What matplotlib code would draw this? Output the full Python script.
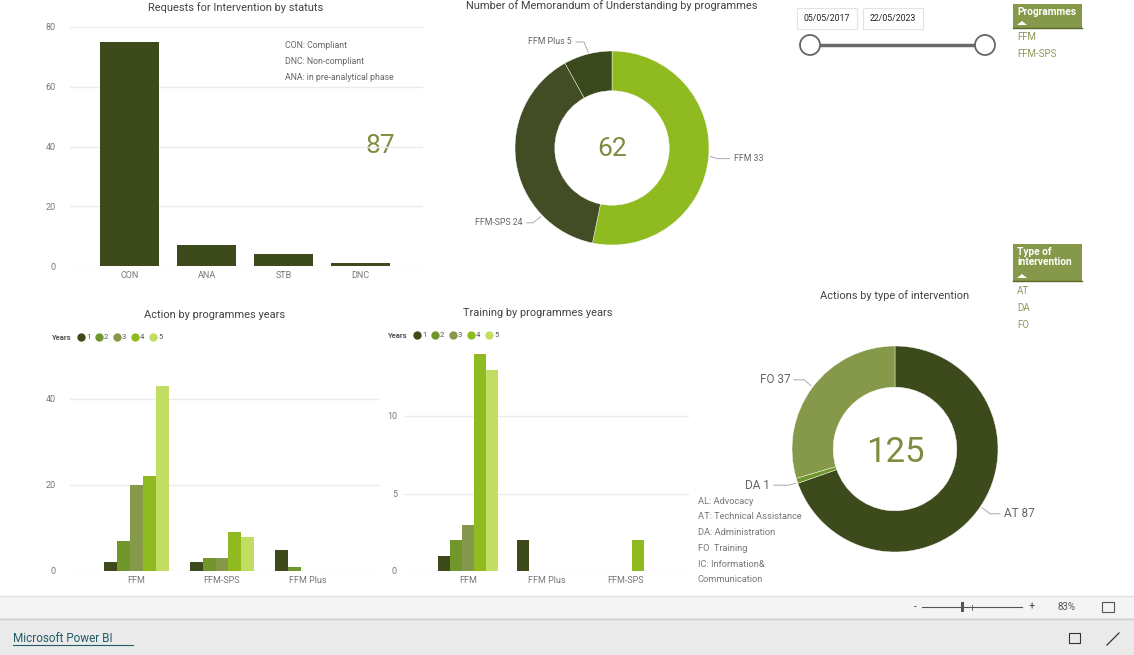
import matplotlib.pyplot as plt
import numpy as np
from matplotlib.patches import Rectangle, Circle, Polygon

plt.rcParams['font.family'] = ['Roboto', 'DejaVu Sans']

# data
status_cats = ["CON", "ANA", "STB", "DNC"]
status_vals = [75, 7, 4, 1]

mou_progs = ["FFM", "FFM-SPS", "FFM Plus"]
mou_vals = [33, 24, 5]

years = ["1", "2", "3", "4", "5"]
action_progs = ["FFM", "FFM-SPS", "FFM Plus"]
action_vals = {            # per year, per programme
    "1": [2, 2, 5],
    "2": [7, 3, 1],
    "3": [20, 3, 0],
    "4": [22, 9, 0],
    "5": [43, 8, 0],
}
training_progs = ["FFM", "FFM Plus", "FFM-SPS"]
training_vals = {
    "1": [1, 2, 0],
    "2": [2, 0, 0],
    "3": [3, 0, 0],
    "4": [14, 0, 2],
    "5": [13, 0, 0],
}

interv_types = ["AT", "DA", "FO"]
interv_vals = [87, 1, 37]

status_notes = ["CON: Compliant", "DNC: Non-compliant", "ANA: in pre-analytical phase"]
type_notes = ["AL: Advocacy", "AT: Technical Assistance", "DA: Administration",
              "FO  Training", "IC: Information&", "Communication"]
date_range = ["05/05/2017", "22/05/2023"]

# colours
DARK = "#3d4b1c"
year_colors = ["#3d4b1c", "#71962c", "#86984a", "#8fba20", "#c1de63"]
mou_colors = ["#8fba20", "#434d25", "#3b4a1c"]
type_colors = ["#3d4b1c", "#71962c", "#86984a"]
KPI = "#7f8c3f"
TITLE = "#444444"
TICK = "#777777"
GRID = "#ebebeb"

W, H = 1134, 655
fig = plt.figure(figsize=(W / 100, H / 100), dpi=100)
fig.patch.set_facecolor("white")

# background axes in pixel coords (y downwards)
bg = fig.add_axes([0, 0, 1, 1], zorder=-1)
bg.set_xlim(0, W)
bg.set_ylim(H, 0)
bg.axis("off")


def px_axes(x0, y0, x1, y1):
    ax = fig.add_axes([x0 / W, 1 - y1 / H, (x1 - x0) / W, (y1 - y0) / H])
    ax.set_facecolor("none")
    return ax


def style_bar_axes(ax, ticks, pad=10):
    for s in ax.spines.values():
        s.set_visible(False)
    ax.set_yticks(ticks)
    ax.yaxis.grid(True, color=GRID, lw=1)
    ax.set_axisbelow(True)
    ax.tick_params(length=0, labelsize=6.5, colors=TICK)
    ax.tick_params(axis="y", pad=pad)


def year_legend(x, y):
    bg.text(x, y, "Years", fontsize=5.5, fontweight="bold", color="#555555", va="center")
    for i, yr in enumerate(years):
        cx = x + 30 + i * 18
        bg.plot([cx], [y], marker="o", ms=6, color=year_colors[i], mec="none")
        bg.text(cx + 5, y, yr, fontsize=5.5, color="#555555", va="center")


# ---- Requests for Intervention by statuts ----
ax1 = px_axes(70, 27, 423, 266)
x = np.arange(len(status_cats))
ax1.bar(x, status_vals, width=0.77, color=DARK)
ax1.set_xlim(-0.78, 3.82)
ax1.set_ylim(0, 80)
ax1.set_xticks(x)
ax1.set_xticklabels(status_cats)
style_bar_axes(ax1, [0, 20, 40, 60, 80])
bg.text(236, 8, "Requests for Intervention by statuts", fontsize=7.9, color=TITLE, ha="center", va="center")
for i, t in enumerate(status_notes):
    bg.text(285, 46 + i * 16, t, fontsize=6.3, color="#666666", va="center")
bg.text(380, 146, str(sum(status_vals)), fontsize=19, color=KPI, ha="center", va="center")

# ---- MoU donut ----
ax2 = px_axes(515, 51, 709, 245)
ax2.pie(mou_vals, colors=mou_colors, startangle=90, counterclock=False, radius=1,
        wedgeprops=dict(width=0.41, edgecolor="white", linewidth=0.3))
ax2.set_xlim(-1, 1)
ax2.set_ylim(-1, 1)
bg.text(612, 6, "Number of Memorandum of Understanding by programmes", fontsize=7.9, color=TITLE,
        ha="center", va="center")
bg.text(612, 149, str(sum(mou_vals)), fontsize=19, color=KPI, ha="center", va="center")


def donut_label(cx, cy, r, ang, dx, dy, hlen, text, size, side):
    a = np.deg2rad(ang)
    p0 = (cx + (r + 2) * np.cos(a), cy - (r + 2) * np.sin(a))
    p1 = (p0[0] + dx, p0[1] + dy)
    p2 = (p1[0] + hlen * side, p1[1])
    bg.plot([p0[0], p1[0], p2[0]], [p0[1], p1[1], p2[1]], color="#aaaaaa", lw=0.7)
    bg.text(p2[0] + 4 * side, p2[1], text, fontsize=size, color="#666666",
            ha="left" if side > 0 else "right", va="center")


for name, v, ang, dx, dy, hl, side in zip(mou_progs, mou_vals,
                                          [-5, -136, 104], [7, -8, -4], [2, 6, -10], [12, 6, 8],
                                          [1, -1, -1]):
    donut_label(612, 148, 97, ang, dx, dy, hl, f"{name} {v}", 6.3, side)

# ---- date slicer ----
for i, d in enumerate(date_range):
    x0 = 797 + i * 66
    bg.add_patch(Rectangle((x0, 8), 60, 21, fc="white", ec="#e3e3e3", lw=0.8))
    bg.text(x0 + 30, 18.5, d, fontsize=6.3, color="#222222", ha="center", va="center")
bg.plot([810, 985], [45, 45], color="#6a6a6a", lw=2.5)
for cx in (810, 985):
    bg.add_patch(Circle((cx, 45), 10, fc="white", ec="#666666", lw=1.3, zorder=3))


def slicer(y0, y1, header, items, item_y):
    bg.add_patch(Rectangle((1013, y0), 69, y1 - y0, fc="#86984a", ec="none"))
    bg.plot([1013, 1082], [y1, y1], color="#5a6a2a", lw=1)
    bg.text(1017, y0 + 3, header, fontsize=7.3, fontweight="bold", color="white", va="top",
            linespacing=1.05)
    bg.add_patch(Polygon([[1017, y1 - 3], [1027, y1 - 3], [1022, y1 - 7]], fc="white", ec="none"))
    for i, it in enumerate(items):
        bg.text(1017, item_y + i * 17, it, fontsize=7, color="#8a9a5b", va="center")


slicer(4, 28, "Programmes", mou_progs[:2], 37)
slicer(244, 281, "Type of\nintervention", interv_types, 291)

# ---- Action by programmes years ----
ax3 = px_axes(70, 360, 380, 571)
bw = 0.151
xg = np.arange(len(action_progs))
for i, yr in enumerate(years):
    ax3.bar(xg + (i - 2) * bw, action_vals[yr], width=bw, color=year_colors[i])
ax3.set_xlim(-0.77, 2.84)
ax3.set_ylim(0, 211 / 4.3)
ax3.set_xticks(xg)
ax3.set_xticklabels(action_progs)
style_bar_axes(ax3, [0, 20, 40])
bg.text(215, 315, "Action by programmes years", fontsize=7.9, color=TITLE, ha="center", va="center")
year_legend(51, 337)

# ---- Training by programmes years ----
ax4 = px_axes(404, 350, 689, 571)
xt = np.arange(len(training_progs))
for i, yr in enumerate(years):
    ax4.bar(xt + (i - 2) * bw, training_vals[yr], width=bw, color=year_colors[i])
ax4.set_xlim(-0.81, 2.8)
ax4.set_ylim(0, 221 / 15.5)
ax4.set_xticks(xt)
ax4.set_xticklabels(training_progs)
style_bar_axes(ax4, [0, 5, 10], pad=5)
bg.text(538, 313, "Training by programmes years", fontsize=7.9, color=TITLE, ha="center", va="center")
year_legend(387, 335)

# ---- Actions by type of intervention ----
ax5 = px_axes(792, 346, 998, 552)
ax5.pie(interv_vals, colors=type_colors, startangle=90, counterclock=False, radius=1,
        wedgeprops=dict(width=0.4, edgecolor="white", linewidth=0.3))
ax5.set_xlim(-1, 1)
ax5.set_ylim(-1, 1)
bg.text(895, 296, "Actions by type of intervention", fontsize=7.9, color=TITLE, ha="center", va="center")
bg.text(895, 452, str(sum(interv_vals)), fontsize=25, color=KPI, ha="center", va="center")
for name, v, ang, dx, dy, hl, side in zip(interv_types, interv_vals,
                                          [-34, -161, 143], [8, -7, -7], [6, 2, -6], [10, 15, 10],
                                          [1, -1, -1]):
    donut_label(895, 449, 103, ang, dx, dy, hl, f"{name} {v}", 8.5, side)
for i, t in enumerate(type_notes):
    bg.text(698, 501 + i * 15.8, t, fontsize=6.7, color="#777777", va="center")

# ---- Power BI footer ----
bg.add_patch(Rectangle((0, 596), W, 22, fc="#f4f4f4", ec="none"))
bg.plot([0, W], [596, 596], color="#e0e0e0", lw=1)
bg.add_patch(Rectangle((0, 618), W, 37, fc="#eaeaea", ec="none"))
bg.plot([0, W], [618.5, 618.5], color="#cfcfcf", lw=1)
bg.text(915, 607, "-", fontsize=7, color="#444444", ha="center", va="center")
bg.plot([922, 1022], [607, 607], color="#555555", lw=0.8)
bg.add_patch(Rectangle((961, 602), 3, 10, fc="#555555", ec="none"))
bg.plot([972, 972], [604.5, 609.5], color="#555555", lw=0.6)
bg.text(1032, 607, "+", fontsize=8, color="#444444", ha="center", va="center")
bg.text(1067, 607, "83%", fontsize=7, color="#555555", ha="center", va="center")
bg.add_patch(Rectangle((1102, 602), 12, 10, fc="none", ec="#555555", lw=0.8))
bg.text(13, 639, "Microsoft Power BI", fontsize=8.5, color="#1f5c66", va="center")
bg.plot([13, 133], [645, 645], color="#1f5c66", lw=0.8)
bg.add_patch(Rectangle((1069, 633), 11, 10, fc="none", ec="#333333", lw=0.8))
bg.plot([1107, 1119], [645, 633], color="#333333", lw=0.9)

fig.savefig("out.png", dpi=100)
